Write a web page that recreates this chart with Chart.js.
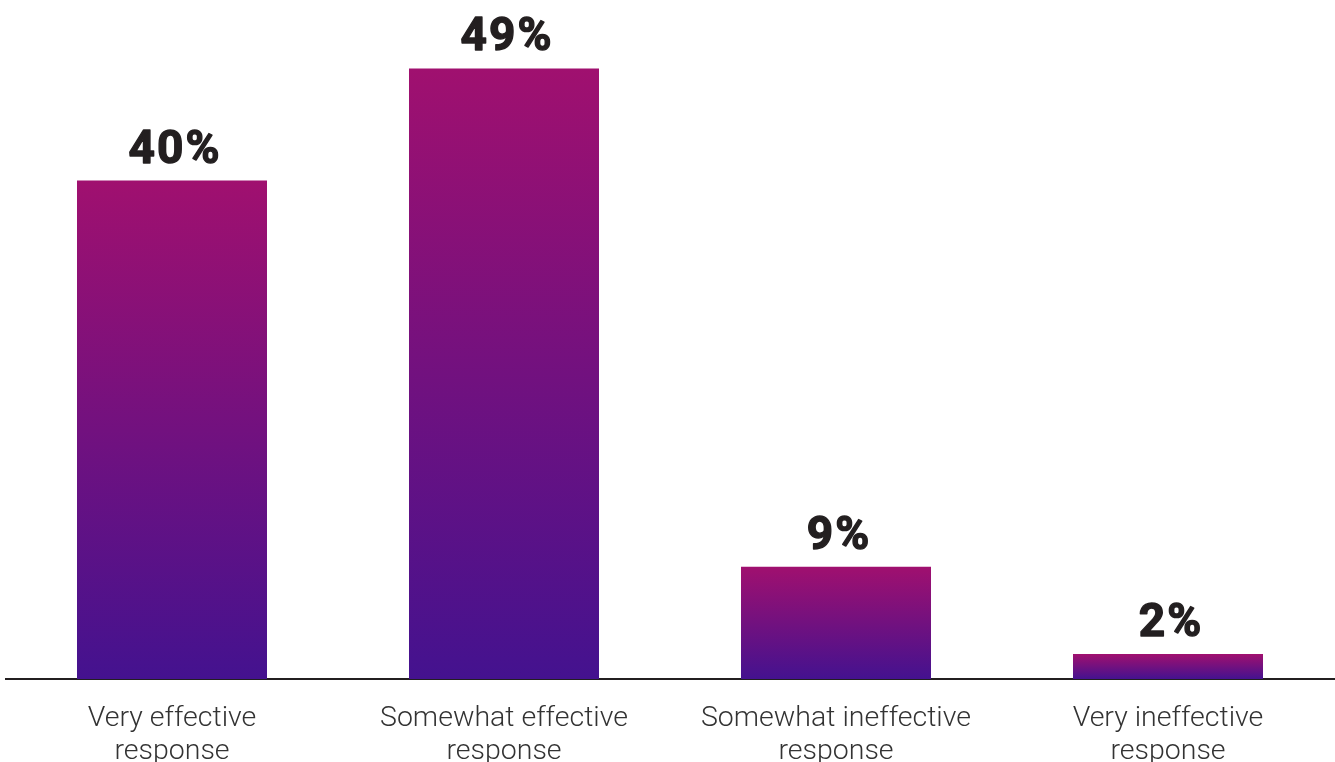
<!DOCTYPE html>
<html>
<head>
<meta charset="utf-8">
<script src="https://cdn.jsdelivr.net/npm/chart.js@4"></script>
<style>
  html, body { margin: 0; padding: 0; background: #fff; }
  #wrap { width: 1335px; height: 762px; position: relative; }
</style>
</head>
<body>
<div id="wrap"><canvas id="chart"></canvas></div>
<script>
// categories (split into two lines like the picture)
const categories = [
    ["Very effective", "response"],
    ["Somewhat effective", "response"],
    ["Somewhat ineffective", "response"],
    ["Very ineffective", "response"]
];
const shares = [40, 49, 9, 2];

const topColor = "#a0106f";
const bottomColor = "#44128f";

// gradient per bar, from its top down to the baseline
function barGradient(context) {
    const chart = context.chart;
    if (!chart.chartArea) return bottomColor;
    const y = chart.scales.y;
    const top = y.getPixelForValue(context.raw);
    const base = y.getPixelForValue(0);
    const g = chart.ctx.createLinearGradient(0, top, 0, base);
    g.addColorStop(0, topColor);
    g.addColorStop(1, bottomColor);
    return g;
}

// draw the % above each bar (stroked a little to look heavier)
const valueLabels = {
    id: "valueLabels",
    afterDatasetsDraw(chart) {
        const ctx = chart.ctx;
        const meta = chart.getDatasetMeta(0);
        ctx.save();
        ctx.font = "bold 46px Roboto";
        ctx.letterSpacing = "2px";
        ctx.fillStyle = "#231f20";
        ctx.strokeStyle = "#231f20";
        ctx.lineWidth = 1.4;
        ctx.lineJoin = "round";
        ctx.textAlign = "center";
        ctx.textBaseline = "alphabetic";
        meta.data.forEach((bar, i) => {
            const txt = shares[i] + "%";
            ctx.fillText(txt, bar.x + 3, bar.y - 18);
            ctx.strokeText(txt, bar.x + 3, bar.y - 18);
        });
        ctx.restore();
    }
};

new Chart(document.getElementById("chart"), {
    type: "bar",
    data: {
        labels: categories,
        datasets: [{
            data: shares,
            backgroundColor: barGradient,
            borderWidth: 0,
            categoryPercentage: 1,
            barPercentage: 0.5723
        }]
    },
    options: {
        responsive: true,
        maintainAspectRatio: false,
        animation: false,
        layout: { padding: { left: 6, right: 1, top: 56, bottom: 0 } },
        plugins: {
            legend: { display: false },
            tooltip: { enabled: false }
        },
        scales: {
            x: {
                grid: { display: false, drawTicks: false },
                border: { display: true, color: "#231f20", width: 2 },
                ticks: {
                    color: "#333333",
                    padding: 24,
                    font: { family: "Roboto", size: 28.5, weight: 300, lineHeight: 1.14 },
                    maxRotation: 0,
                    autoSkip: false
                },
                afterFit(scale) {
                    scale.height = 83;
                }
            },
            y: {
                display: false,
                min: 0,
                max: 50
            }
        }
    },
    plugins: [valueLabels]
});
</script>
</body>
</html>
